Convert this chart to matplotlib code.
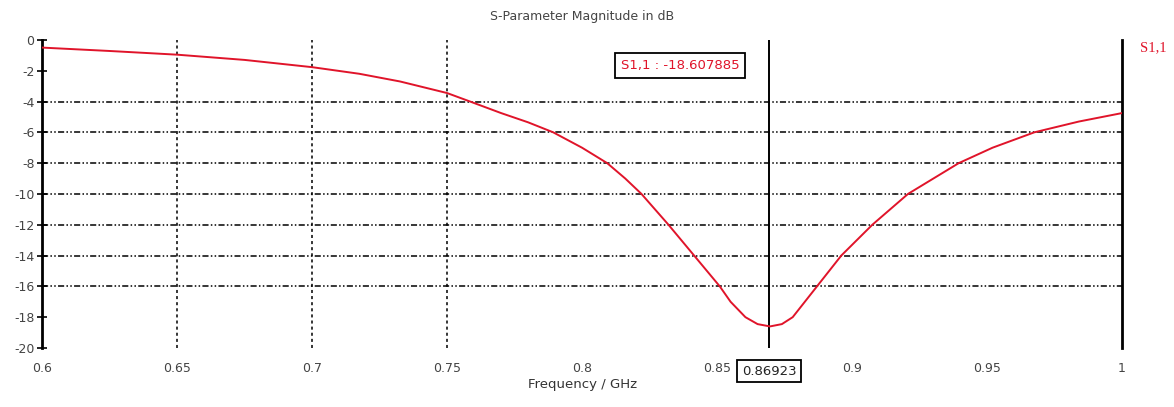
import matplotlib
matplotlib.use("Agg")
import matplotlib.pyplot as plt
import matplotlib.transforms as mtransforms

# S1,1 magnitude (dB)
freq = [0.600, 0.625, 0.650, 0.675, 0.700, 0.7175, 0.7326, 0.750, 0.7585, 0.770,
        0.780, 0.7893, 0.800, 0.8093, 0.8160, 0.822, 0.832, 0.8415, 0.851,
        0.855, 0.8605, 0.865, 0.8696, 0.874, 0.878, 0.8825, 0.887, 0.896,
        0.9075, 0.9207, 0.9395, 0.952, 0.9675, 0.984, 1.000]
s11_db = [-0.5, -0.72, -0.96, -1.3, -1.77, -2.2, -2.7, -3.45, -4.0, -4.75,
          -5.35, -6.0, -7.0, -8.0, -9.0, -10.0, -12.0, -14.0, -16.0,
          -17.0, -18.0, -18.45, -18.6, -18.45, -18.0, -17.0, -16.0, -14.0,
          -12.0, -10.0, -8.0, -7.0, -6.0, -5.3, -4.75]

xticks = [0.6, 0.65, 0.7, 0.75, 0.8, 0.85, 0.9, 0.95, 1.0]
xticklabels = ["0.6", "0.65", "0.7", "0.75", "0.8", "0.85", "0.9", "0.95", "1"]
yticks = [0, -2, -4, -6, -8, -10, -12, -14, -16, -18, -20]
hgrid = [-4, -6, -8, -10, -12, -14, -16]
vgrid = [0.65, 0.7, 0.75]

marker_f = 0.86923
marker_text = "S1,1 : -18.607885"
marker_f_text = "0.86923"

red = "#e0142a"

fig = plt.figure(figsize=(11.74, 4.07), dpi=100)
ax = fig.add_axes([0.0358, 0.145, 0.92, 0.757])

ax.plot(freq, s11_db, color=red, lw=1.4, zorder=3)

for g in hgrid:
    ax.axhline(g, color="black", lw=1.1, ls=(0, (4, 1.5, 1, 1.5, 1, 1.5)), zorder=1)
for g in vgrid:
    ax.axvline(g, color="black", lw=1.1, ls=(0, (2, 2)), zorder=1)

ax.axvline(marker_f, color="black", lw=1.4, zorder=2)
ax.axvline(1.0, color="black", lw=2, zorder=2, clip_on=False)

ax.set_xlim(0.6, 1.0)
ax.set_ylim(-20, 0)
ax.set_xticks(xticks)
ax.set_xticklabels(xticklabels)
ax.set_yticks(yticks)
ax.set_yticklabels([str(t) for t in yticks])
ax.tick_params(axis="both", direction="inout", length=7, width=1.2,
               labelsize=9, labelcolor="#444444", colors="black")
ax.tick_params(axis="x", length=0, pad=10)
ax.tick_params(axis="y", pad=2)
for lab in ax.get_yticklabels():
    lab.set_color("#444444")

for s in ["top", "right", "bottom"]:
    ax.spines[s].set_visible(False)
ax.spines["left"].set_linewidth(2)

ax.set_title("S-Parameter Magnitude in dB", fontsize=9, color="#444444", pad=14)
ax.set_xlabel("Frequency / GHz", fontsize=9.5, color="#333333", labelpad=2)

ax.text(0.5907, 0.9156, marker_text, transform=ax.transAxes, ha="center",
        va="center", color=red, fontsize=9.5,
        bbox=dict(boxstyle="square,pad=0.45", fc="white", ec="black", lw=1.3))

trans = mtransforms.blended_transform_factory(ax.transData, ax.transAxes)
ax.text(marker_f, -0.075, marker_f_text, transform=trans, ha="center",
        va="center", color="#222222", fontsize=9.5,
        bbox=dict(boxstyle="square,pad=0.35", fc="white", ec="black", lw=1.3))

ax.text(1.0167, 0.974, "S1,1", transform=ax.transAxes, ha="left", va="center",
        color=red, fontsize=10.5, family="Liberation Serif")

fig.savefig("out.png", dpi=100)
